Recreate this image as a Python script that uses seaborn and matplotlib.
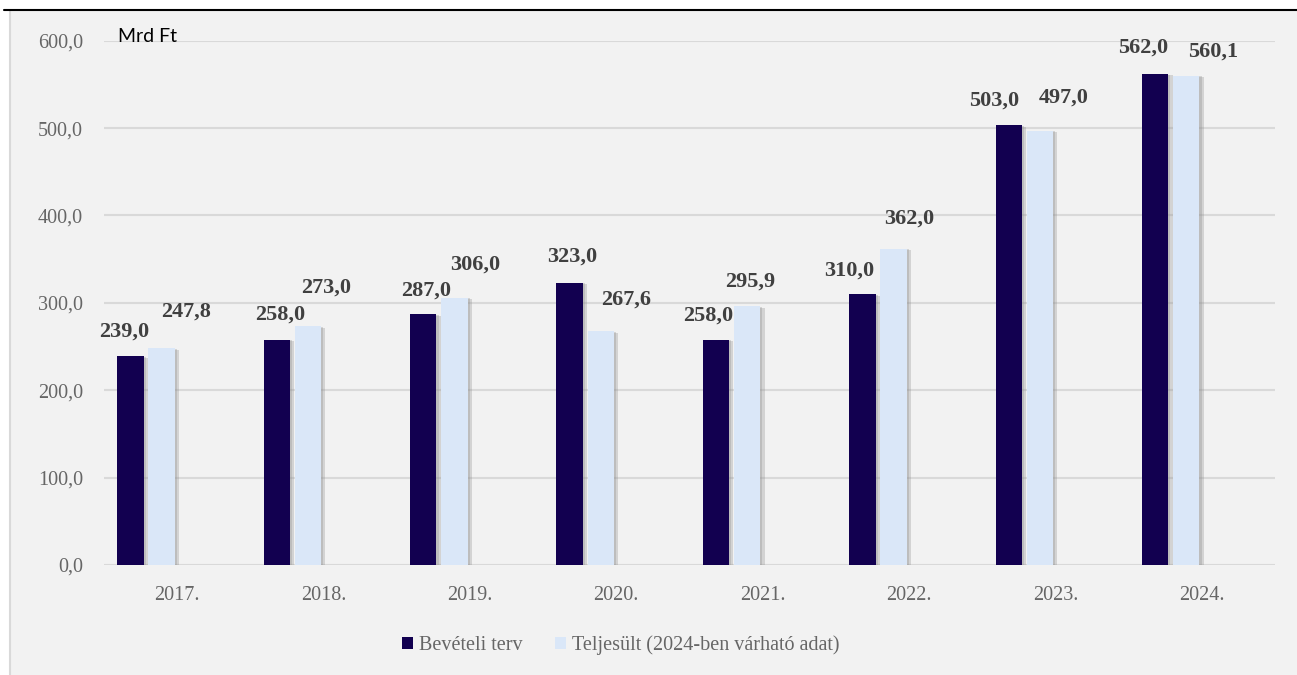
import matplotlib
matplotlib.use("Agg")
import matplotlib.pyplot as plt
import matplotlib.patheffects as pe
from matplotlib.patches import Rectangle, Patch
from matplotlib.lines import Line2D
import pandas as pd
import seaborn as sns

# ---- data ----
years = ["2017.", "2018.", "2019.", "2020.", "2021.", "2022.", "2023.", "2024."]
plan = [239.0, 258.0, 287.0, 323.0, 258.0, 310.0, 503.0, 562.0]
actual = [247.8, 273.0, 306.0, 267.6, 295.9, 362.0, 497.0, 560.1]
series_names = ["Bevételi terv", "Teljesült (2024-ben várható adat)"]
y_ticks = [0, 100, 200, 300, 400, 500, 600]
unit_label = "Mrd Ft"

# label offsets (pixels) relative to top-centre of each bar
plan_dx = [-6, 3, 3, 3, -8, -13, -15, -12]
plan_dy = [25, 25, 24, 26, 24, 24, 25, 26]
act_dx = [24, 18, 21, 25, 3, 16, 24, 27]
act_dy = [37, 39, 33, 32, 25, 30, 33, 24]

DARK = "#120050"
LIGHT = "#DAE7F8"
BG = "#F2F2F2"
GRID = "#D9D9D9"
TXT = "#666666"
VAL = "#404040"

df = pd.DataFrame({
    "year": years * 2,
    "value": plan + actual,
    "series": [series_names[0]] * len(years) + [series_names[1]] * len(years),
})
hue_order = series_names + ["_pad1", "_pad2"]
palette = {series_names[0]: DARK, series_names[1]: LIGHT, "_pad1": BG, "_pad2": BG}

sns.set_theme(style="white")
plt.rcParams["font.family"] = ["Liberation Serif", "DejaVu Serif"]

fig = plt.figure(figsize=(12.97, 6.75), dpi=100)
fig.patch.set_facecolor("white")
# panel background
fig.patches.append(Rectangle((10 / 1297, 0), 1 - 10 / 1297, 1 - 11 / 675,
                             transform=fig.transFigure, facecolor=BG,
                             edgecolor="none", zorder=-10))
fig.lines.append(Line2D([10 / 1297, 10 / 1297], [0, 1 - 11 / 675],
                        transform=fig.transFigure, color="#D9D9D9", lw=1.5, zorder=-5))
fig.lines.append(Line2D([4 / 1297, 1], [1 - 10 / 675, 1 - 10 / 675],
                        transform=fig.transFigure, color="black", lw=1.5, zorder=-5))

ax = fig.add_axes([104 / 1297, 1 - 565 / 675, (1275 - 104) / 1297, (565 - 40.7) / 675])
ax.patch.set_alpha(0)

sns.barplot(data=df, x="year", y="value", hue="series", hue_order=hue_order,
            order=years, palette=palette, width=0.85, gap=0.15, dodge=True,
            errorbar=None, legend=False, ax=ax, saturation=1, linewidth=0)

shadow = [pe.SimplePatchShadow(offset=(3, -1), shadow_rgbFace="#8c8c8c", alpha=0.3),
          pe.SimplePatchShadow(offset=(1.5, -0.5), shadow_rgbFace="#8c8c8c", alpha=0.3),
          pe.Normal()]
for p in ax.patches:
    p.set_path_effects(shadow)
    p.set_zorder(3)

ax.set_xlim(-0.5, len(years) - 0.5)
ax.set_ylim(0, 600)
ax.set_yticks(y_ticks)
ax.set_yticklabels([f"{v:.1f}".replace(".", ",") for v in y_ticks])
ax.yaxis.grid(True, color=GRID, lw=1.5, zorder=0)
ax.set_axisbelow(True)
for s in ax.spines.values():
    s.set_visible(False)
ax.tick_params(axis="both", length=0, labelsize=14.5, labelcolor=TXT)
ax.tick_params(axis="y", pad=15)
ax.tick_params(axis="x", pad=15)
ax.set_xlabel("")
ax.set_ylabel("")

# value labels
conts = [c for c in ax.containers if len(c.patches) > 0]
for cont, dxs, dys in zip(conts[:2], [plan_dx, act_dx], [plan_dy, act_dy]):
    for bar, dx, dy in zip(cont.patches, dxs, dys):
        h = bar.get_height()
        xc = bar.get_x() + bar.get_width() / 2
        ax.annotate(f"{h:.1f}".replace(".", ","), xy=(xc, h),
                    xytext=(dx, dy), textcoords="offset pixels",
                    ha="center", va="center", fontsize=16, fontweight="bold",
                    color=VAL, zorder=5, annotation_clip=False)

ax.text(118 / 1297, 1 - 36.5 / 675, unit_label, transform=fig.transFigure,
        ha="left", va="center", fontsize=14, color="black", family=["Lato", "DejaVu Sans"])

handles = [Patch(facecolor=DARK, edgecolor="none"), Patch(facecolor=LIGHT, edgecolor="none")]
fig.legend(handles, series_names, loc="center", bbox_to_anchor=(621 / 1297, 1 - 645 / 675),
           ncol=2, frameon=False, fontsize=14.5, labelcolor=TXT,
           handlelength=0.55, handleheight=0.55, handletextpad=0.3, columnspacing=1.6)

fig.savefig("out.png", dpi=100, facecolor=fig.get_facecolor())
